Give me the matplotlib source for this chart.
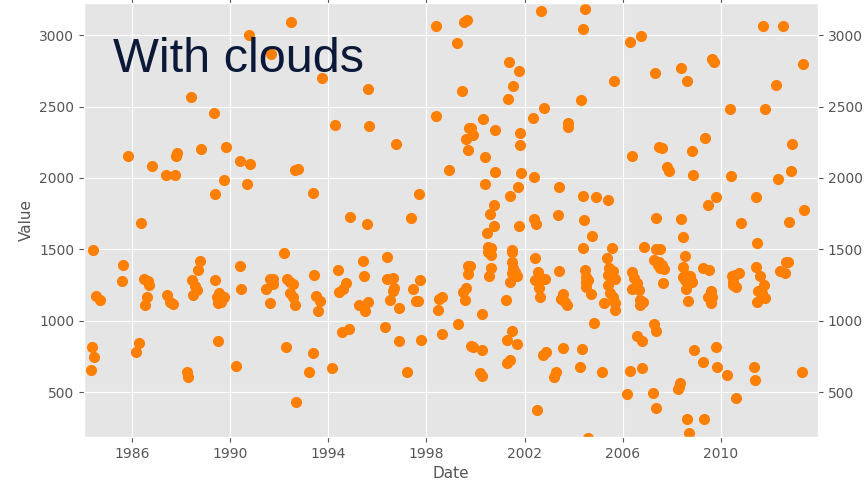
import datetime as dt
import matplotlib
matplotlib.use("Agg")
import matplotlib.pyplot as plt
import matplotlib.dates as mdates

# decimal years and values
years = [
    1984.42, 1984.52, 1984.70, 1984.36, 1984.46, 1984.32, 1985.62, 1985.58, 1985.85, 1986.37,
    1986.16, 1986.29, 1986.49, 1986.66, 1986.68, 1986.60, 1986.54, 1986.80, 1987.38, 1987.76,
    1987.82, 1987.80, 1988.39, 1988.81, 1989.34, 1989.39, 1989.76, 1989.82, 1990.41, 1990.83,
    1990.67, 1990.78, 1991.66, 1987.44, 1987.55, 1987.68, 1988.23, 1988.29, 1988.43, 1988.50,
    1988.57, 1988.66, 1988.70, 1988.77, 1989.38, 1989.49, 1989.45, 1989.56, 1989.52, 1989.65,
    1989.75, 1989.61, 1990.25, 1990.41, 1990.45, 1991.46, 1991.62, 1991.62, 1991.76, 1991.76,
    1992.48, 1993.75, 1995.60, 1994.28, 1995.65, 1996.77, 1992.64, 1992.75, 1993.38, 1994.87,
    1995.56, 1997.68, 1997.36, 1998.37, 1999.52, 1999.66, 1999.23, 1999.43, 1998.37, 1998.90,
    1999.73, 1999.63, 1999.70, 1992.20, 1992.30, 1992.44, 1992.57, 1992.44, 1992.57, 1992.64,
    1992.26, 1993.38, 1993.21, 1992.69, 1993.43, 1993.49, 1993.66, 1993.60, 1994.16, 1994.39,
    1994.72, 1994.58, 1994.43, 1994.54, 1994.83, 1995.41, 1995.45, 1995.27, 1995.50, 1995.60,
    1996.40, 1996.40, 1996.62, 1996.67, 1996.62, 1996.51, 1996.33, 1996.87, 1996.87, 1997.19,
    1997.46, 1997.73, 1997.56, 1997.64, 1997.78, 1998.48, 1998.52, 1998.64, 1998.63, 1999.27,
    1999.69, 1999.70, 1999.49, 1999.63, 1999.59, 1999.81, 2002.66, 2004.46, 2004.36, 2001.38,
    2001.76, 2001.53, 2001.34, 2002.77, 2002.35, 2004.30, 2005.62, 2006.31, 2006.73, 2007.33,
    2000.31, 1999.80, 1999.88, 2000.81, 2001.80, 2001.80, 2003.75, 2003.77, 2000.38, 2000.81,
    2001.87, 2002.40, 2006.38, 2007.49, 2000.38, 2001.71, 2001.40, 2003.39, 2000.76, 2000.59,
    2000.74, 2000.45, 2001.76, 2002.40, 2002.46, 2003.34, 2004.36, 2004.89, 2005.38, 2004.41,
    2004.74, 2007.36, 2000.49, 2000.65, 2001.49, 2004.37, 2005.56, 2006.85, 2007.37, 2000.51,
    2000.65, 1999.77, 2000.28, 2000.65, 2000.55, 2001.49, 2001.49, 2001.53, 2001.60, 2001.67,
    2001.47, 2001.42, 2001.23, 1999.90, 2000.27, 2000.17, 2000.27, 2001.26, 2001.49, 2001.67,
    2001.26, 2001.42, 2002.41, 2002.55, 2002.41, 2002.62, 2002.82, 2002.59, 2002.62, 2002.50,
    2002.73, 2002.86, 2003.20, 2003.26, 2003.40, 2003.57, 2003.50, 2003.64, 2003.71, 2003.57,
    2004.45, 2004.52, 2004.49, 2004.59, 2004.48, 2004.70, 2004.83, 2004.32, 2004.26, 2005.16,
    2004.60, 2005.35, 2005.44, 2005.60, 2005.38, 2005.69, 2005.40, 2005.47, 2005.60, 2005.24,
    2005.69, 2005.69, 2006.38, 2006.45, 2006.56, 2006.38, 2006.66, 2006.69, 2006.83, 2006.69,
    2007.27, 2007.44, 2007.27, 2007.34, 2006.58, 2006.79, 2006.28, 2006.79, 2006.17, 2007.22,
    2007.37, 2008.39, 2008.62, 2009.64, 2009.72, 2011.73, 2012.53, 2013.32, 2012.23, 2010.35,
    2011.78, 2007.60, 2008.81, 2009.35, 2012.90, 2007.80, 2007.87, 2008.86, 2010.40, 2012.31,
    2012.84, 2009.45, 2009.78, 2011.42, 2013.37, 2008.39, 2010.83, 2012.79, 2008.44, 2011.46,
    2007.51, 2007.48, 2007.58, 2007.51, 2007.67, 2007.64, 2008.55, 2008.44, 2008.45, 2008.59,
    2008.73, 2008.53, 2008.66, 2008.80, 2008.59, 2008.66, 2009.27, 2009.51, 2009.61, 2009.47,
    2009.65, 2009.61, 2010.43, 2010.56, 2010.74, 2010.49, 2010.60, 2010.49, 2011.42, 2011.58,
    2011.74, 2011.51, 2011.69, 2011.78, 2011.45, 2012.39, 2012.60, 2012.64, 2012.73, 2008.90,
    2009.79, 2009.25, 2009.82, 2010.25, 2011.35, 2011.38, 2013.28, 2008.32, 2008.28, 2008.25,
    2010.61, 2008.62, 2009.30, 2008.70,
]
values = [
    1495, 1171, 1143, 817, 742, 653, 1391, 1275, 2154, 1683,
    782, 845, 1293, 1277, 1249, 1167, 1111, 2084, 2019, 2019,
    2175, 2157, 2565, 2201, 2453, 1884, 1982, 2220, 2119, 2101,
    1956, 3004, 2871, 1177, 1130, 1114, 640, 603, 1284, 1177,
    1244, 1214, 1354, 1419, 1282, 857, 1167, 1191, 1121, 1156,
    1167, 1132, 684, 1382, 1219, 1219, 1121, 1289, 1289, 1254,
    3090, 2700, 2626, 2374, 2364, 2236, 2054, 2063, 1891, 1727,
    1674, 1884, 1718, 3064, 3090, 3109, 2945, 2612, 2437, 2054,
    2348, 2276, 2194, 1475, 1291, 1272, 1254, 1191, 1167, 1109,
    813, 775, 638, 428, 1319, 1174, 1137, 1067, 666, 1356,
    1265, 1219, 1198, 918, 939, 1419, 1312, 1111, 1067, 1130,
    1447, 1291, 1300, 1230, 1207, 1146, 955, 1090, 855, 638,
    1219, 1282, 1137, 1137, 866, 1074, 1153, 1163, 908, 974,
    1384, 1324, 1202, 1226, 1144, 822, 3172, 3181, 3046, 2810,
    2747, 2644, 2556, 2491, 2420, 2546, 2682, 2951, 2997, 2738,
    2411, 2350, 2304, 2339, 2318, 2229, 2385, 2357, 2147, 2038,
    2031, 2003, 2157, 2215, 1956, 1937, 1874, 1937, 1811, 1748,
    1662, 1611, 1662, 1713, 1674, 1737, 1874, 1865, 1846, 1702,
    1590, 1720, 1517, 1506, 1496, 1510, 1510, 1517, 1499, 1478,
    1459, 1382, 1046, 1366, 1312, 1482, 1408, 1366, 1342, 1312,
    1331, 1272, 1144, 817, 792, 631, 612, 864, 929, 836,
    701, 724, 1436, 1338, 1284, 1284, 1289, 1226, 1167, 374,
    759, 782, 603, 642, 1347, 1186, 1151, 1132, 1109, 810,
    1354, 1307, 1268, 1284, 1237, 1184, 985, 801, 673, 638,
    175, 1440, 1366, 1349, 1319, 1291, 1249, 1191, 1167, 1121,
    1121, 1074, 1338, 1296, 1261, 1219, 1214, 1144, 1132, 1109,
    1424, 1389, 977, 929, 892, 857, 647, 666, 484, 491,
    390, 2771, 2679, 2836, 2815, 3064, 3064, 2801, 2654, 2481,
    2481, 2212, 2191, 2283, 2236, 2077, 2045, 2019, 2012, 1991,
    2045, 1811, 1863, 1863, 1772, 1709, 1683, 1690, 1583, 1545,
    1499, 1412, 1389, 1366, 1361, 1265, 1454, 1373, 1307, 1319,
    1312, 1284, 1284, 1272, 1219, 1139, 1366, 1354, 1209, 1167,
    1167, 1121, 1312, 1319, 1331, 1272, 1237, 1249, 1373, 1312,
    1249, 1209, 1191, 1156, 1128, 1349, 1335, 1412, 1408, 792,
    817, 708, 675, 619, 677, 584, 638, 565, 537, 519,
    456, 311, 311, 211,
]
tick_years = [1986, 1990, 1994, 1998, 2002, 2006, 2010]


def to_date(y):
    year = int(y)
    start = dt.datetime(year, 1, 1)
    return start + dt.timedelta(days=(y - year) * 365.25)


dates = [to_date(y) for y in years]

plt.style.use("ggplot")
fig = plt.figure(figsize=(8.68, 4.87), dpi=100)
ax = fig.add_axes([0.0968, 0.1027, 0.8456, 0.891])

ax.plot(dates, values, "o", color="#ff7f00", markeredgecolor="#ff7f00", markersize=7)

ax.set_xlim(to_date(1984.05), to_date(2013.95))
ax.set_ylim(185, 3225)
ax.set_xticks([dt.datetime(y, 1, 1) for y in tick_years])
ax.xaxis.set_major_formatter(mdates.DateFormatter("%Y"))
ax.set_yticks([500, 1000, 1500, 2000, 2500, 3000])
ax.tick_params(axis="y", right=True, labelright=True, labelsize=10)
ax.tick_params(axis="x", top=True, labelsize=10)

ax.set_xlabel("Date", fontsize=11)
ax.set_ylabel("Value", fontsize=11)

ax.text(0.0395, 0.841, "With clouds", transform=ax.transAxes, fontsize=35,
        color="#0b1838", family="Liberation Sans", va="baseline", ha="left")

fig.savefig("out.png", dpi=100)
